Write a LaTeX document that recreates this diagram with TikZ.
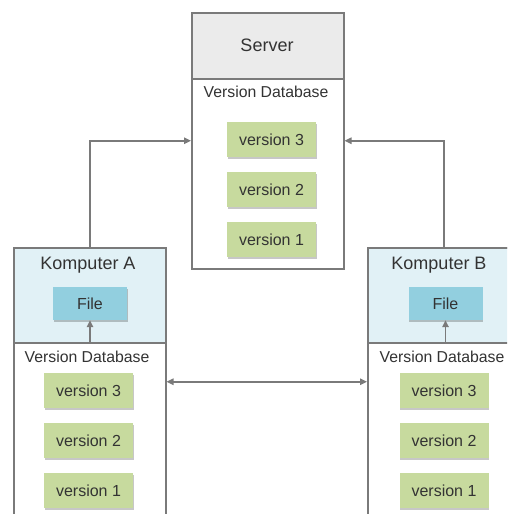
\documentclass[tikz,border=0pt]{standalone}
\usepackage{fontspec}
\setmainfont{Liberation Sans}
\usetikzlibrary{arrows.meta,shadows}
\definecolor{linegray}{HTML}{7A7A7A}
\definecolor{srvgray}{HTML}{EBEBEB}
\definecolor{hdrblue}{HTML}{E1F1F6}
\definecolor{fileblue}{HTML}{92CFDF}
\definecolor{vgreen}{HTML}{C7DA9E}
\definecolor{txt}{HTML}{333333}
\tikzset{
  bigbox/.style={draw=linegray, line width=1.5pt, fill=white, anchor=north west, inner sep=0pt},
  hdrbox/.style={draw=linegray, line width=1.5pt, anchor=north west, inner sep=0pt},
  verbox/.style={fill=vgreen, minimum width=89pt, minimum height=35pt, inner sep=0pt,
    text=txt, font=\fontsize{16}{18}\selectfont,
    drop shadow={shadow xshift=0.6pt, shadow yshift=-2pt, opacity=0.22, fill=black}},
  filebox/.style={fill=fileblue, minimum width=74pt, minimum height=33pt, inner sep=0pt,
    text=txt, font=\fontsize{16}{18}\selectfont,
    drop shadow={shadow xshift=0.6pt, shadow yshift=-2pt, opacity=0.22, fill=black}},
  titletext/.style={text=txt, font=\fontsize{18}{20}\selectfont, inner sep=0pt},
  dbtext/.style={text=txt, font=\fontsize{15.8}{18}\selectfont, inner sep=0pt},
  conn/.style={draw=linegray, line width=1.5pt, -{Triangle[length=7pt,width=6.5pt]}},
}
\begin{document}
\begin{tikzpicture}[x=1pt,y=-1pt]
\useasboundingbox (0,0) rectangle (507,514);
\clip (0,0) rectangle (507,514);
% Server
\node[bigbox, minimum width=152pt, minimum height=256pt] (server) at (191,12) {};
\node[hdrbox, fill=srvgray, minimum width=152pt, minimum height=66pt] (srvhdr) at (191,12) {};
\node[titletext] (srvtitle) at (267,45) {Server};
\node[dbtext] (srvdb) at (266,92) {Version Database};
\node[verbox] (s3) at (271.5,139.5) {version 3};
\node[verbox] (s2) at (271.5,189.5) {version 2};
\node[verbox] (s1) at (271.5,239.5) {version 1};
% Komputer A
\node[bigbox, minimum width=152pt, minimum height=268pt] (compA) at (13,247) {};
\node[hdrbox, fill=hdrblue, minimum width=152pt, minimum height=95pt] (hdrA) at (13,247) {};
\node[titletext] (titleA) at (88,265) {Komputer A};
\node[filebox] (fileA) at (90,303.5) {File};
\node[dbtext] (dbA) at (87,357) {Version Database};
\node[verbox] (a3) at (88.5,390.5) {version 3};
\node[verbox] (a2) at (88.5,440.5) {version 2};
\node[verbox] (a1) at (88.5,490.5) {version 1};
% Komputer B
\node[bigbox, minimum width=152pt, minimum height=268pt] (compB) at (367,247) {};
\node[hdrbox, fill=hdrblue, minimum width=152pt, minimum height=95pt] (hdrB) at (367,247) {};
\node[titletext] (titleB) at (439,265) {Komputer B};
\node[filebox] (fileB) at (445.5,303.5) {File};
\node[dbtext] (dbB) at (442,357) {Version Database};
\node[verbox] (b3) at (444,390.5) {version 3};
\node[verbox] (b2) at (444,440.5) {version 2};
\node[verbox] (b1) at (444,490.5) {version 1};
% connectors
\draw[conn] (compA.north) |- (server.west);
\draw[conn] (compB.north) |- (server.east);
\draw[conn, {Triangle[length=7pt,width=6.5pt]}-{Triangle[length=7pt,width=6.5pt]}] (compA.east) -- (compB.west);
\draw[conn] (fileA.south |- hdrA.south) -- (fileA.south);
\draw[conn] (fileB.south |- hdrB.south) -- (fileB.south);
\end{tikzpicture}
\end{document}
